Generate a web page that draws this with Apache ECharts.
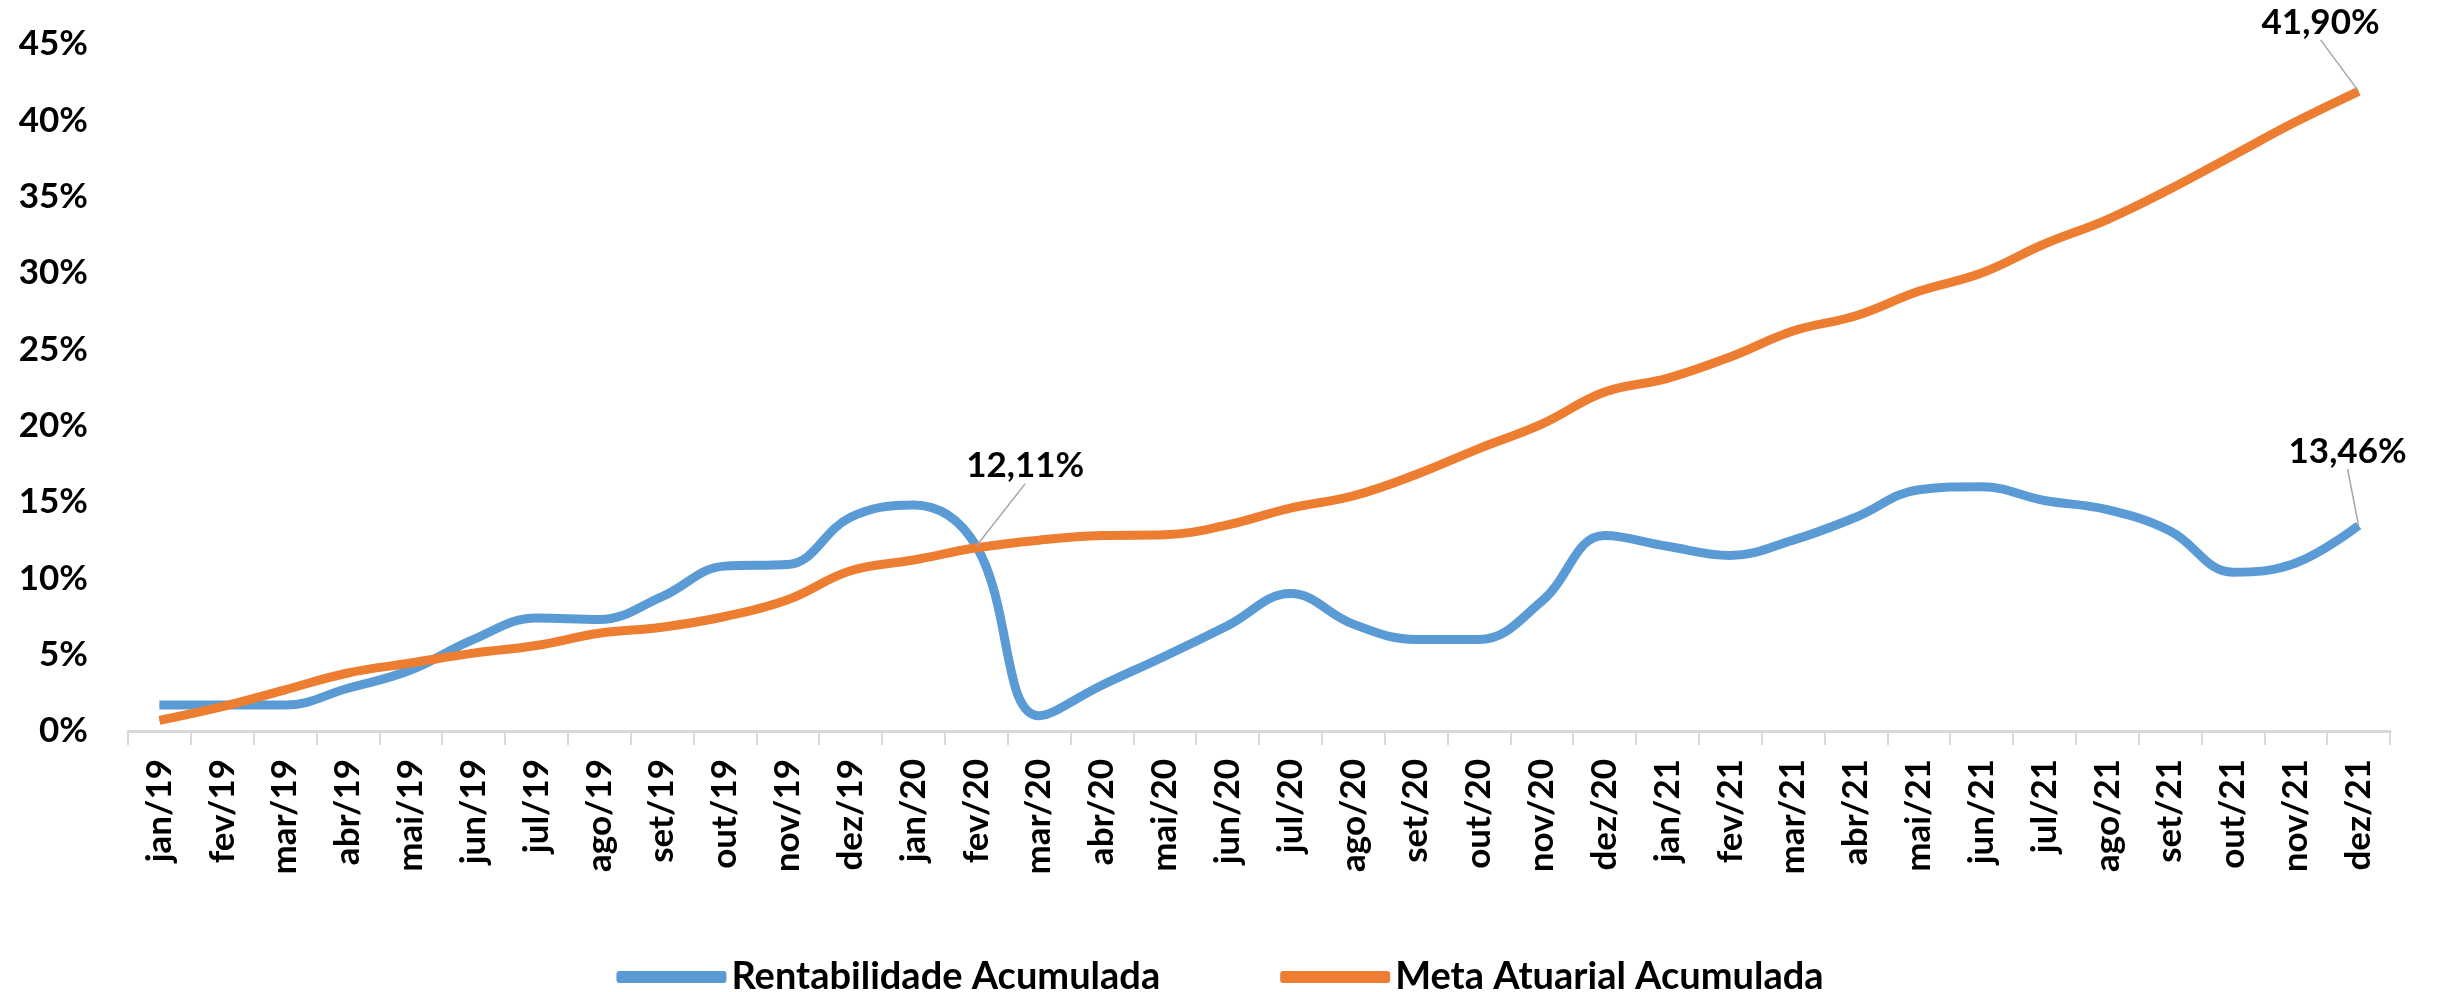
<!DOCTYPE html>
<html>
<head>
<meta charset="utf-8">
<script src="https://cdn.jsdelivr.net/npm/echarts@6/dist/echarts.min.js"></script>
<style>
  html, body { margin: 0; padding: 0; background: #fff; }
  #linemain { width: 2440px; height: 992px; }
</style>
</head>
<body>
<div id="linemain"></div>
<script>
// meses
var meses = ["jan/19", "fev/19", "mar/19", "abr/19", "mai/19", "jun/19", "jul/19", "ago/19", "set/19", "out/19", "nov/19", "dez/19",
  "jan/20", "fev/20", "mar/20", "abr/20", "mai/20", "jun/20", "jul/20", "ago/20", "set/20", "out/20", "nov/20", "dez/20",
  "jan/21", "fev/21", "mar/21", "abr/21", "mai/21", "jun/21", "jul/21", "ago/21", "set/21", "out/21", "nov/21", "dez/21"];

// valores em %
var rentabilidade = [1.7, 1.7, 1.7, 2.8, 4.0, 6.0, 7.4, 7.3, 8.8, 10.8, 10.9, 14.0,
  14.8, 12.11, 1.0, 3.0, 4.9, 6.9, 9.0, 7.0, 6.0, 6.0, 8.5, 12.8,
  12.1, 11.5, 12.5, 14.0, 15.8, 16.0, 15.1, 14.5, 13.1, 10.4, 11.0, 13.46];
var metaAtuarial = [0.7, 1.6, 2.7, 3.8, 4.45, 5.1, 5.6, 6.4, 6.8, 7.5, 8.6, 10.5,
  11.2, 12.0, 12.5, 12.8, 12.85, 13.5, 14.6, 15.4, 16.8, 18.5, 20.1, 22.2,
  23.1, 24.5, 26.2, 27.2, 28.8, 30.0, 31.9, 33.5, 35.5, 37.7, 39.9, 41.9];

// rotulos mostrados (indices)
var rotulosRent = [13, 35];
var rotulosMeta = [35];

var fonte = "Lato, 'Liberation Sans', sans-serif";

function montaDados(vals, rotulos) {
  return vals.map(function (v, i) {
    if (rotulos.indexOf(i) < 0) return v;
    return {
      value: v,
      label: {
        show: true,
        position: "inside",
        formatter: function (p) {
          return p.value.toFixed(2).replace(".", ",") + "%";
        },
        color: "#000",
        fontFamily: fonte,
        fontWeight: "bold",
        fontSize: 35,
      },
      labelLine: {
        show: true,
        lineStyle: { color: "#A6A6A6", width: 1.5 },
      },
    };
  });
}

// deslocamento dos rotulos
var desloc = {
  "0-13": [49, -80],
  "0-35": [-11, -74],
  "1-35": [-38, -69],
};

var myChart = echarts.init(document.getElementById("linemain"));
var option = {
  animation: false,
  grid: {
    left: 128,
    right: 50,
    top: 44,
    bottom: 261,
  },
  legend: {
    left: "center",
    top: 953,
    itemWidth: 110,
    itemHeight: 12,
    itemGap: 120,
    icon: "roundRect",
    textStyle: {
      fontFamily: fonte,
      fontWeight: "bold",
      fontSize: 38,
      color: "#000",
    },
    data: ["Rentabilidade Acumulada", "Meta Atuarial Acumulada"],
  },
  xAxis: {
    type: "category",
    data: meses,
    boundaryGap: true,
    axisLine: {
      lineStyle: { color: "#D9D9D9", width: 3 },
    },
    axisTick: {
      show: true,
      length: 14,
      lineStyle: { color: "#D9D9D9", width: 2 },
    },
    axisLabel: {
      interval: 0,
      rotate: 90,
      margin: 28,
      color: "#000",
      fontFamily: fonte,
      fontWeight: "bold",
      fontSize: 35,
    },
  },
  yAxis: {
    type: "value",
    min: 0,
    max: 45,
    interval: 5,
    axisLine: { show: false },
    axisTick: { show: false },
    splitLine: { show: false },
    axisLabel: {
      formatter: "{value}%",
      margin: 40,
      color: "#000",
      fontFamily: fonte,
      fontWeight: "bold",
      fontSize: 35,
    },
  },
  series: [
    {
      name: "Rentabilidade Acumulada",
      type: "line",
      smooth: 0.4,
      symbol: "circle",
      symbolSize: 1,
      showSymbol: true,
      color: "#5B9BD5",
      lineStyle: { width: 9, color: "#5B9BD5" },
      data: montaDados(rentabilidade, rotulosRent),
      labelLayout: function (p) {
        var d = desloc[p.seriesIndex + "-" + p.dataIndex];
        return d ? { dx: d[0], dy: d[1] } : {};
      },
    },
    {
      name: "Meta Atuarial Acumulada",
      type: "line",
      smooth: 0.4,
      symbol: "circle",
      symbolSize: 1,
      showSymbol: true,
      color: "#ED7D31",
      lineStyle: { width: 9, color: "#ED7D31" },
      data: montaDados(metaAtuarial, rotulosMeta),
      labelLayout: function (p) {
        var d = desloc[p.seriesIndex + "-" + p.dataIndex];
        return d ? { dx: d[0], dy: d[1] } : {};
      },
    },
  ],
};

myChart.setOption(option);
</script>
</body>
</html>
